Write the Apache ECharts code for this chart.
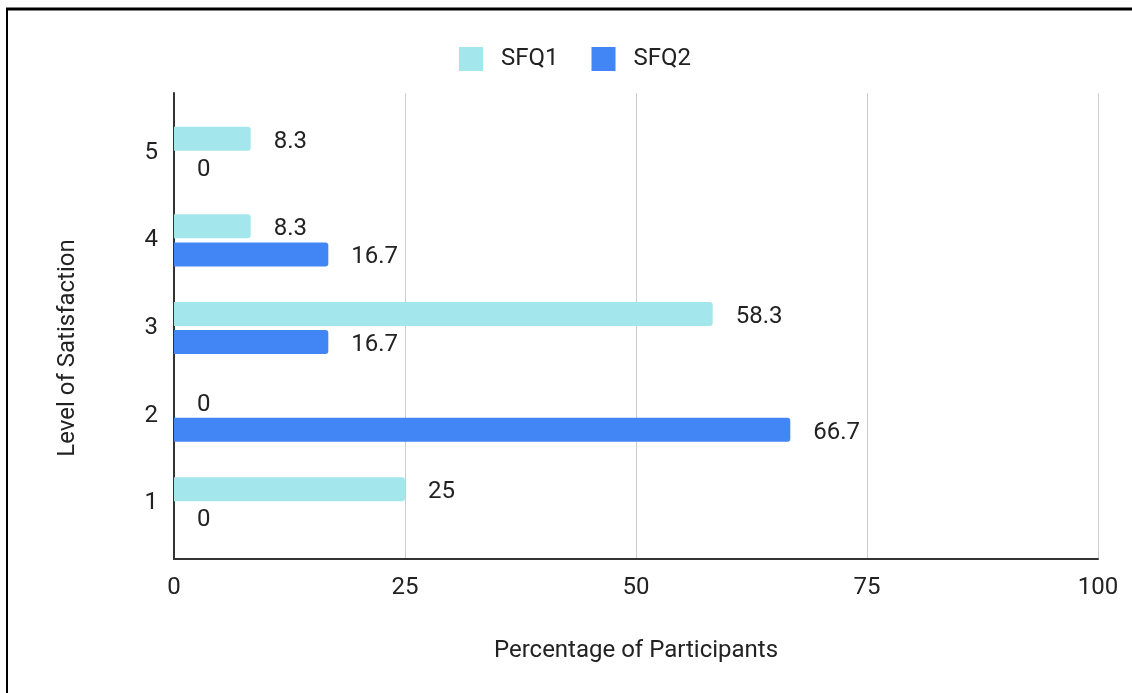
<!DOCTYPE html>
<html>
<head>
<meta charset="utf-8">
<title>Level of Satisfaction</title>
<script src="https://cdn.jsdelivr.net/npm/echarts@6/dist/echarts.min.js"></script>
<style>
  html, body { margin: 0; padding: 0; background: #fff; }
  #chart { width: 1132px; height: 693px; }
</style>
</head>
<body>
<div id="chart"></div>
<script>
// Satisfaction levels (bottom to top) and share of participants per questionnaire
const levels = ['1', '2', '3', '4', '5'];
const sfq1 = [25, 0, 58.3, 8.3, 8.3];
const sfq2 = [0, 66.7, 16.7, 16.7, 0];
const percentTicks = [0, 25, 50, 75, 100];

const FONT = 'Roboto, "Liberation Sans", Arial, sans-serif';
const TEXT = '#222';

const chart = echarts.init(document.getElementById('chart'), null, { renderer: 'canvas' });

const barLabel = {
  show: true,
  position: 'right',
  distance: 23,
  offset: [0, 3],
  fontFamily: FONT,
  fontSize: 24,
  color: TEXT
};

chart.setOption({
  backgroundColor: '#fff',
  animation: false,
  legend: {
    data: ['SFQ1', 'SFQ2'],
    left: 459,
    top: 47,
    padding: 0,
    icon: 'rect',
    itemWidth: 24,
    itemHeight: 24,
    itemGap: 33,
    textStyle: { fontFamily: FONT, fontSize: 24, color: TEXT, padding: [0, 0, 0, 13] }
  },
  grid: [
    // frame: gridlines, axes lines and x tick labels
    { left: 174, right: 34, top: 93, bottom: 134 },
    // bars
    { left: 174, right: 34, top: 109, bottom: 146 }
  ],
  xAxis: [
    {
      gridIndex: 0,
      type: 'value',
      min: percentTicks[0],
      max: percentTicks[percentTicks.length - 1],
      interval: 25,
      name: 'Percentage of Participants',
      nameLocation: 'middle',
      nameGap: 80,
      nameTextStyle: { fontFamily: FONT, fontSize: 24, color: TEXT },
      axisLine: { show: true, lineStyle: { color: '#333', width: 2 } },
      axisTick: { show: false },
      axisLabel: { margin: 17, fontFamily: FONT, fontSize: 24, color: TEXT },
      splitLine: { show: true, lineStyle: { color: '#cccccc', width: 1 } }
    },
    {
      gridIndex: 1,
      type: 'value',
      min: 0,
      max: 100,
      show: false
    }
  ],
  yAxis: [
    {
      gridIndex: 0,
      type: 'value',
      min: 0,
      max: 1,
      axisLine: { show: true, lineStyle: { color: '#333', width: 2 } },
      axisTick: { show: false },
      axisLabel: { show: false },
      splitLine: { show: false }
    },
    {
      gridIndex: 1,
      type: 'category',
      data: levels,
      axisLine: { show: false },
      axisTick: { show: false },
      axisLabel: { margin: 16, fontFamily: FONT, fontSize: 24, color: TEXT, padding: [8, 0, 0, 0] },
      splitLine: { show: false }
    }
  ],
  series: [
    {
      name: 'SFQ1',
      type: 'bar',
      xAxisIndex: 1,
      yAxisIndex: 1,
      data: sfq1,
      barWidth: 24,
      barGap: '17%',
      itemStyle: { color: '#a3e7ec', borderRadius: [0, 3, 3, 0] },
      label: barLabel
    },
    {
      name: 'SFQ2',
      type: 'bar',
      xAxisIndex: 1,
      yAxisIndex: 1,
      data: sfq2,
      barWidth: 24,
      barGap: '17%',
      itemStyle: { color: '#4285f4', borderRadius: [0, 3, 3, 0] },
      label: barLabel
    }
  ],
  graphic: [
    {
      type: 'text',
      x: 68,
      y: 348,
      rotation: Math.PI / 2,
      style: {
        text: 'Level of Satisfaction',
        fontFamily: FONT,
        fontSize: 24,
        fill: TEXT,
        align: 'center',
        verticalAlign: 'middle'
      }
    },
    // page frame
    { type: 'line', shape: { x1: 6, y1: 9, x2: 1132, y2: 9 }, style: { stroke: '#000', lineWidth: 3 } },
    { type: 'line', shape: { x1: 7, y1: 8, x2: 7, y2: 693 }, style: { stroke: '#000', lineWidth: 2 } }
  ]
});
</script>
</body>
</html>
